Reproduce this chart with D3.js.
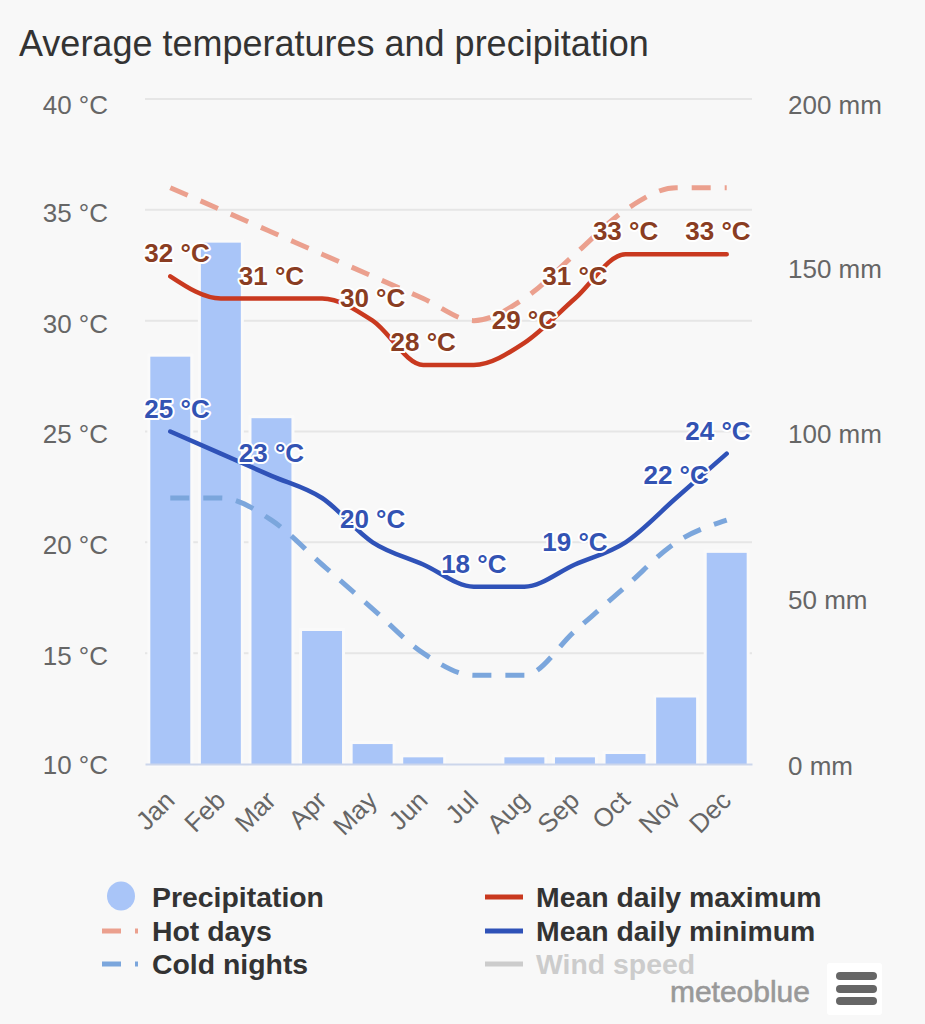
<!DOCTYPE html>
<html>
<head>
<meta charset="utf-8">
<script src="https://cdn.jsdelivr.net/npm/d3@7"></script>
<style>
  html, body { margin: 0; padding: 0; background: #f8f8f8; }
  svg { display: block; font-family: "Liberation Sans", Arial, sans-serif; }
</style>
</head>
<body>
<svg id="chart" width="925" height="1024"></svg>
<script>
const months = ["Jan","Feb","Mar","Apr","May","Jun","Jul","Aug","Sep","Oct","Nov","Dec"];
const precipitation = [122.5,156.8,104,40,6,2,0,2,2,3,20,63.5];
const meanMax = [32,31,31,31,30,28,28,29,31,33,33,33];
const meanMin = [25,24,23,22,20,19,18,18,19,20,22,24];
const hotDays = [36,35,34,33,32,31,30,31,33,35,36,36];
const coldNights = [22,22,21,19,17,15,14,14,16,18,20,21];
const maxLabelled = ["Jan","Mar","May","Jun","Aug","Sep","Oct","Dec"];
const minLabelled = ["Jan","Mar","May","Jul","Sep","Nov","Dec"];
const tempTicks = [10,15,20,25,30,35,40];
const rainTicks = [0,50,100,150,200];

const margin = {top: 99, right: 173, bottom: 260, left: 145};
const width = 925 - margin.left - margin.right;
const height = 1024 - margin.top - margin.bottom;

const svgEl = d3.select("#chart");

svgEl.append("text")
  .attr("x", 19).attr("y", 55.5)
  .attr("font-size", 36)
  .attr("fill", "#333")
  .text("Average temperatures and precipitation");

const svg = svgEl.append("g")
  .attr("transform", `translate(${margin.left},${margin.top})`);

const x = d3.scaleBand().domain(months).range([0, width]).paddingInner(0.21).paddingOuter(0.105);
const xc = m => x(m) + x.bandwidth() / 2;
const yTemp = d3.scaleLinear().domain([10, 40]).range([height, 0]);
const yRain = d3.scaleLinear().domain([0, 200]).range([height, 0]);

// grid
svg.append("g").selectAll("line")
  .data(tempTicks.slice(1))
  .join("line")
  .attr("x1", 0).attr("x2", width)
  .attr("y1", d => yTemp(d)).attr("y2", d => yTemp(d))
  .attr("stroke", "#e6e6e6").attr("stroke-width", 2);

// left axis
const leftAxis = svg.append("g")
  .call(d3.axisLeft(yTemp).tickValues(tempTicks).tickSize(0).tickPadding(37).tickFormat(d => d + " °C"));
leftAxis.select(".domain").remove();
leftAxis.selectAll("text")
  .attr("font-size", 26).attr("fill", "#666")
  .attr("font-family", "Liberation Sans")
  .attr("dy", d => d === 40 ? "0.55em" : d === 10 ? "0.36em" : d >= 30 ? "0.46em" : "0.42em");

// right axis
const rightAxis = svg.append("g")
  .attr("transform", `translate(${width},0)`)
  .call(d3.axisRight(yRain).tickValues(rainTicks).tickSize(0).tickPadding(36).tickFormat(d => d + " mm"));
rightAxis.select(".domain").remove();
rightAxis.selectAll("text")
  .attr("font-size", 26).attr("fill", "#666")
  .attr("font-family", "Liberation Sans")
  .attr("dy", d => d === 200 ? "0.55em" : d === 0 ? "0.4em" : d === 150 ? "0.46em" : "0.42em");

// bars
svg.append("g").selectAll("rect")
  .data(months)
  .join("rect")
  .attr("x", m => x(m))
  .attr("width", x.bandwidth())
  .attr("y", (m, i) => yRain(precipitation[i]))
  .attr("height", (m, i) => height - yRain(precipitation[i]))
  .attr("fill", "#a9c5f8")
  .attr("stroke", "#fafafa").attr("stroke-width", 6).attr("paint-order", "stroke");

// x axis
const bottomAxis = svg.append("g")
  .attr("transform", `translate(0,${height})`)
  .call(d3.axisBottom(x).tickSize(0).tickPadding(0));
bottomAxis.select(".domain").attr("stroke", "#ccd6eb").attr("stroke-width", 2);
bottomAxis.selectAll("text")
  .attr("font-size", 26).attr("fill", "#666")
  .attr("font-family", "Liberation Sans")
  .attr("text-anchor", "end")
  .attr("dy", 0)
  .attr("transform", "translate(6,38) rotate(-45)");

// lines
const line = (scale) => d3.line()
  .x((d, i) => xc(months[i]))
  .y(d => scale(d))
  .curve(d3.curveMonotoneX);

const series = [
  {values: hotDays, color: "#eba08e", dash: "19 14"},
  {values: coldNights, color: "#7ba6dc", dash: "19 14"},
  {values: meanMax, color: "#c9391f", dash: null},
  {values: meanMin, color: "#2f52b8", dash: null}
];
svg.append("g").selectAll("path")
  .data(series)
  .join("path")
  .attr("d", s => line(yTemp)(s.values))
  .attr("fill", "none")
  .attr("stroke", s => s.color)
  .attr("stroke-width", s => s.dash ? 5 : 4.5)
  .attr("stroke-dasharray", s => s.dash)
  .attr("stroke-linecap", s => s.dash ? "butt" : "round");

// value labels, kept inside the plot at both ends
function addLabels(names, values, color) {
  svg.append("g").selectAll("text")
    .data(names)
    .join("text")
    .attr("x", m => Math.min(Math.max(xc(m), 32), width - 34))
    .attr("y", m => yTemp(values[months.indexOf(m)]) - 14)
    .attr("text-anchor", "middle")
    .attr("font-size", 26).attr("font-weight", "bold")
    .attr("fill", color)
    .attr("stroke", "#fff").attr("stroke-width", 4).attr("paint-order", "stroke")
    .attr("stroke-linejoin", "round")
    .text(m => values[months.indexOf(m)] + " °C");
}
addLabels(maxLabelled, meanMax, "#8a3d22");
addLabels(minLabelled, meanMin, "#3353b3");

// legend
const legendLeft = [
  {name: "Precipitation", color: "#a9c5f8", kind: "dot", y: 897},
  {name: "Hot days", color: "#eba08e", kind: "dash", y: 931},
  {name: "Cold nights", color: "#7ba6dc", kind: "dash", y: 964}
];
const legendRight = [
  {name: "Mean daily maximum", color: "#c9391f", kind: "line", y: 897},
  {name: "Mean daily minimum", color: "#2f52b8", kind: "line", y: 931},
  {name: "Wind speed", color: "#cccccc", kind: "line", y: 964, off: true}
];
function addLegend(items, keyX, textX) {
  const g = svgEl.append("g").selectAll("g").data(items).join("g")
    .attr("transform", d => `translate(0,${d.y})`);
  g.filter(d => d.kind === "dot").append("ellipse")
    .attr("cx", keyX + 19).attr("cy", -1).attr("rx", 14).attr("ry", 14.5).attr("fill", d => d.color);
  g.filter(d => d.kind !== "dot").append("line")
    .attr("x1", keyX).attr("x2", keyX + 38)
    .attr("y1", 0).attr("y2", 0)
    .attr("stroke", d => d.color).attr("stroke-width", 5)
    .attr("stroke-dasharray", d => d.kind === "dash" ? "19 14 3 10" : null);
  g.append("text")
    .attr("x", textX).attr("y", 10)
    .attr("font-size", 28.4).attr("font-weight", "bold")
    .attr("fill", d => d.off ? "#cccccc" : "#333")
    .text(d => d.name);
}
addLegend(legendLeft, 102, 152);
addLegend(legendRight, 485, 536);

// logo and menu button
svgEl.append("text")
  .attr("x", 810).attr("y", 1002)
  .attr("text-anchor", "end")
  .attr("font-size", 30)
  .attr("fill", "#999")
  .attr("stroke", "#999").attr("stroke-width", 0.6)
  .text("meteoblue");
svgEl.append("rect")
  .attr("x", 827).attr("y", 963).attr("width", 55).attr("height", 52).attr("rx", 3).attr("fill", "#fff");
svgEl.append("g").selectAll("rect")
  .data([976, 989, 1001])
  .join("rect")
  .attr("x", 836).attr("y", d => d - 4)
  .attr("width", 41).attr("height", 8).attr("rx", 4)
  .attr("fill", "#666");
</script>
</body>
</html>
